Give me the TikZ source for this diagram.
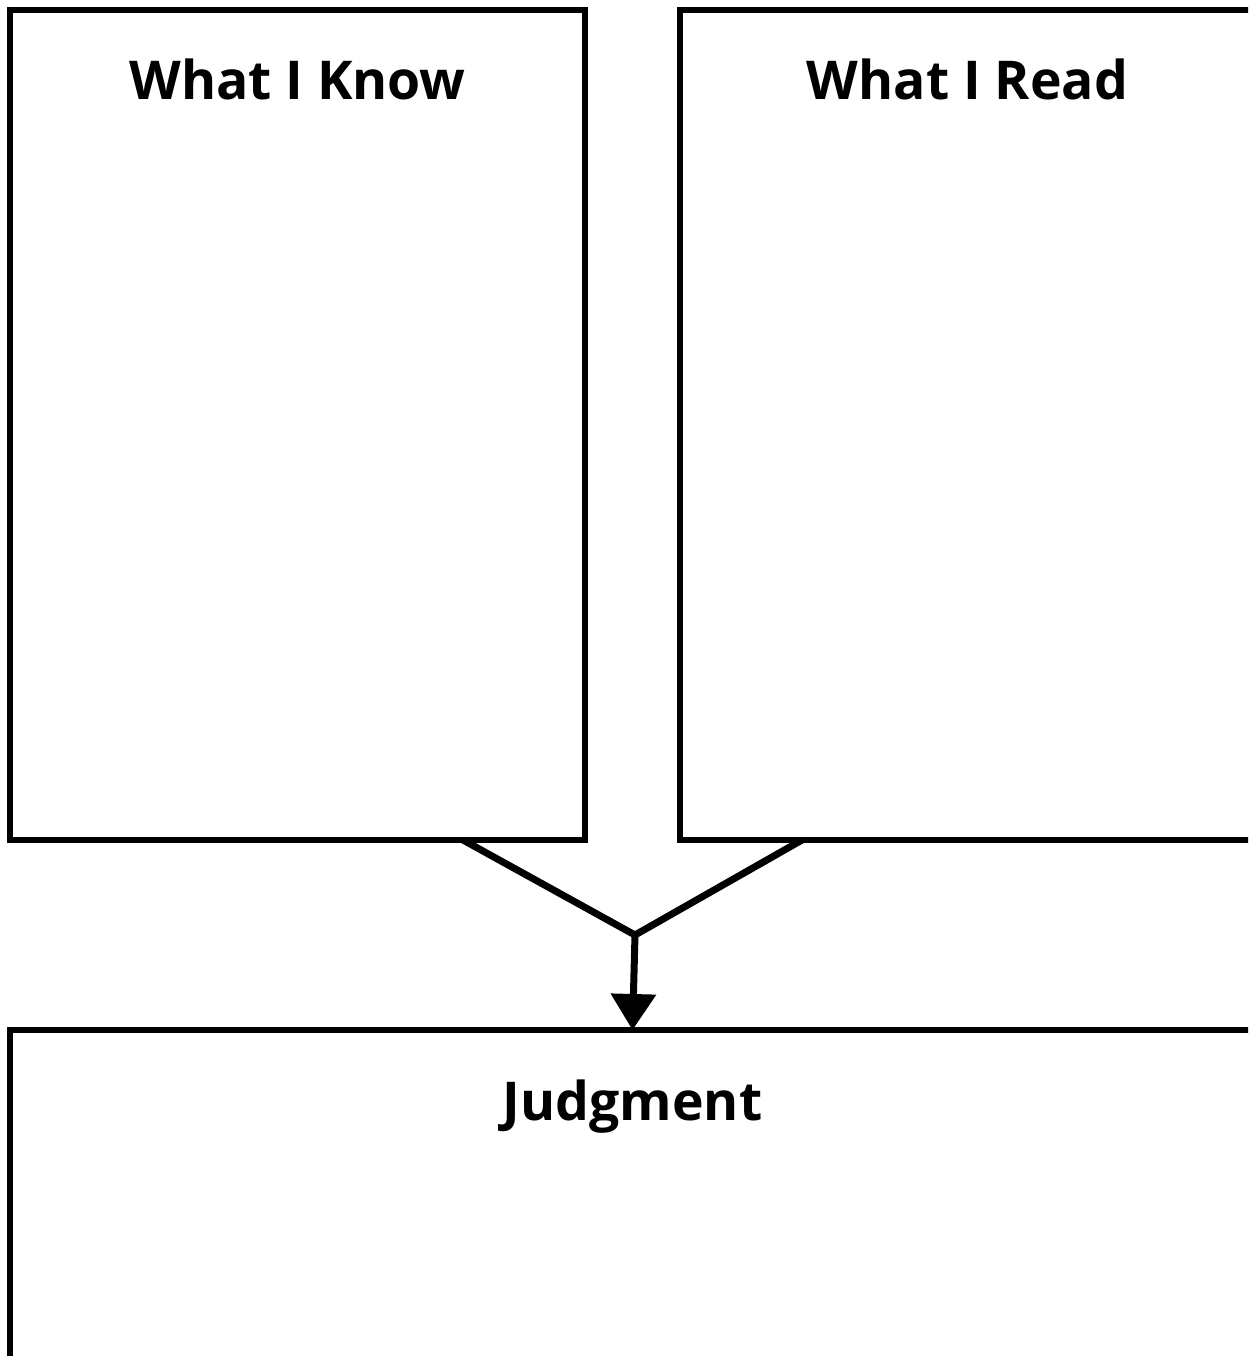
\documentclass[tikz,border=0pt]{standalone}
\usepackage{fontspec}
\setmainfont{Open Sans}
\usetikzlibrary{arrows.meta,calc}
\begin{document}
\begin{tikzpicture}[x=1pt,y=-1pt,
  panel/.style={draw=black,line width=5.5pt,fill=white,inner sep=0pt,outer sep=0pt},
  title/.style={font=\fontsize{53.5}{64}\selectfont\bfseries,anchor=base,inner sep=0pt},
  conn/.style={draw=black,line width=7pt,line join=miter}]
\useasboundingbox (0,0) rectangle (1248,1356);
\fill[white] (0,0) rectangle (1248,1356);
\clip (0,0) rectangle (1248,1356);
\node[panel,minimum width=575pt,minimum height=830pt] (know) at (297.5,425) {};
\node[panel,minimum width=575pt,minimum height=830pt] (read) at (967.5,425) {};
\node[panel,minimum width=1245pt,minimum height=400pt] (judge) at (632.5,1230) {};
\node[title] (tknow) at (297.5,100) {What I Know};
\node[title] (tread) at (967.5,100) {What I Read};
\node[title] (tjudge) at (632.5,1120) {Judgment};
\coordinate (kn) at ($(know.south west)+(453,0)$);
\coordinate (rd) at ($(read.south west)+(122,0)$);
\coordinate (m) at (635,935);
\draw[conn] (kn) -- (m) -- (rd);
\draw[conn,-{Triangle[width=44pt,length=36pt]}] (m) -- (judge.north);
\end{tikzpicture}
\end{document}
